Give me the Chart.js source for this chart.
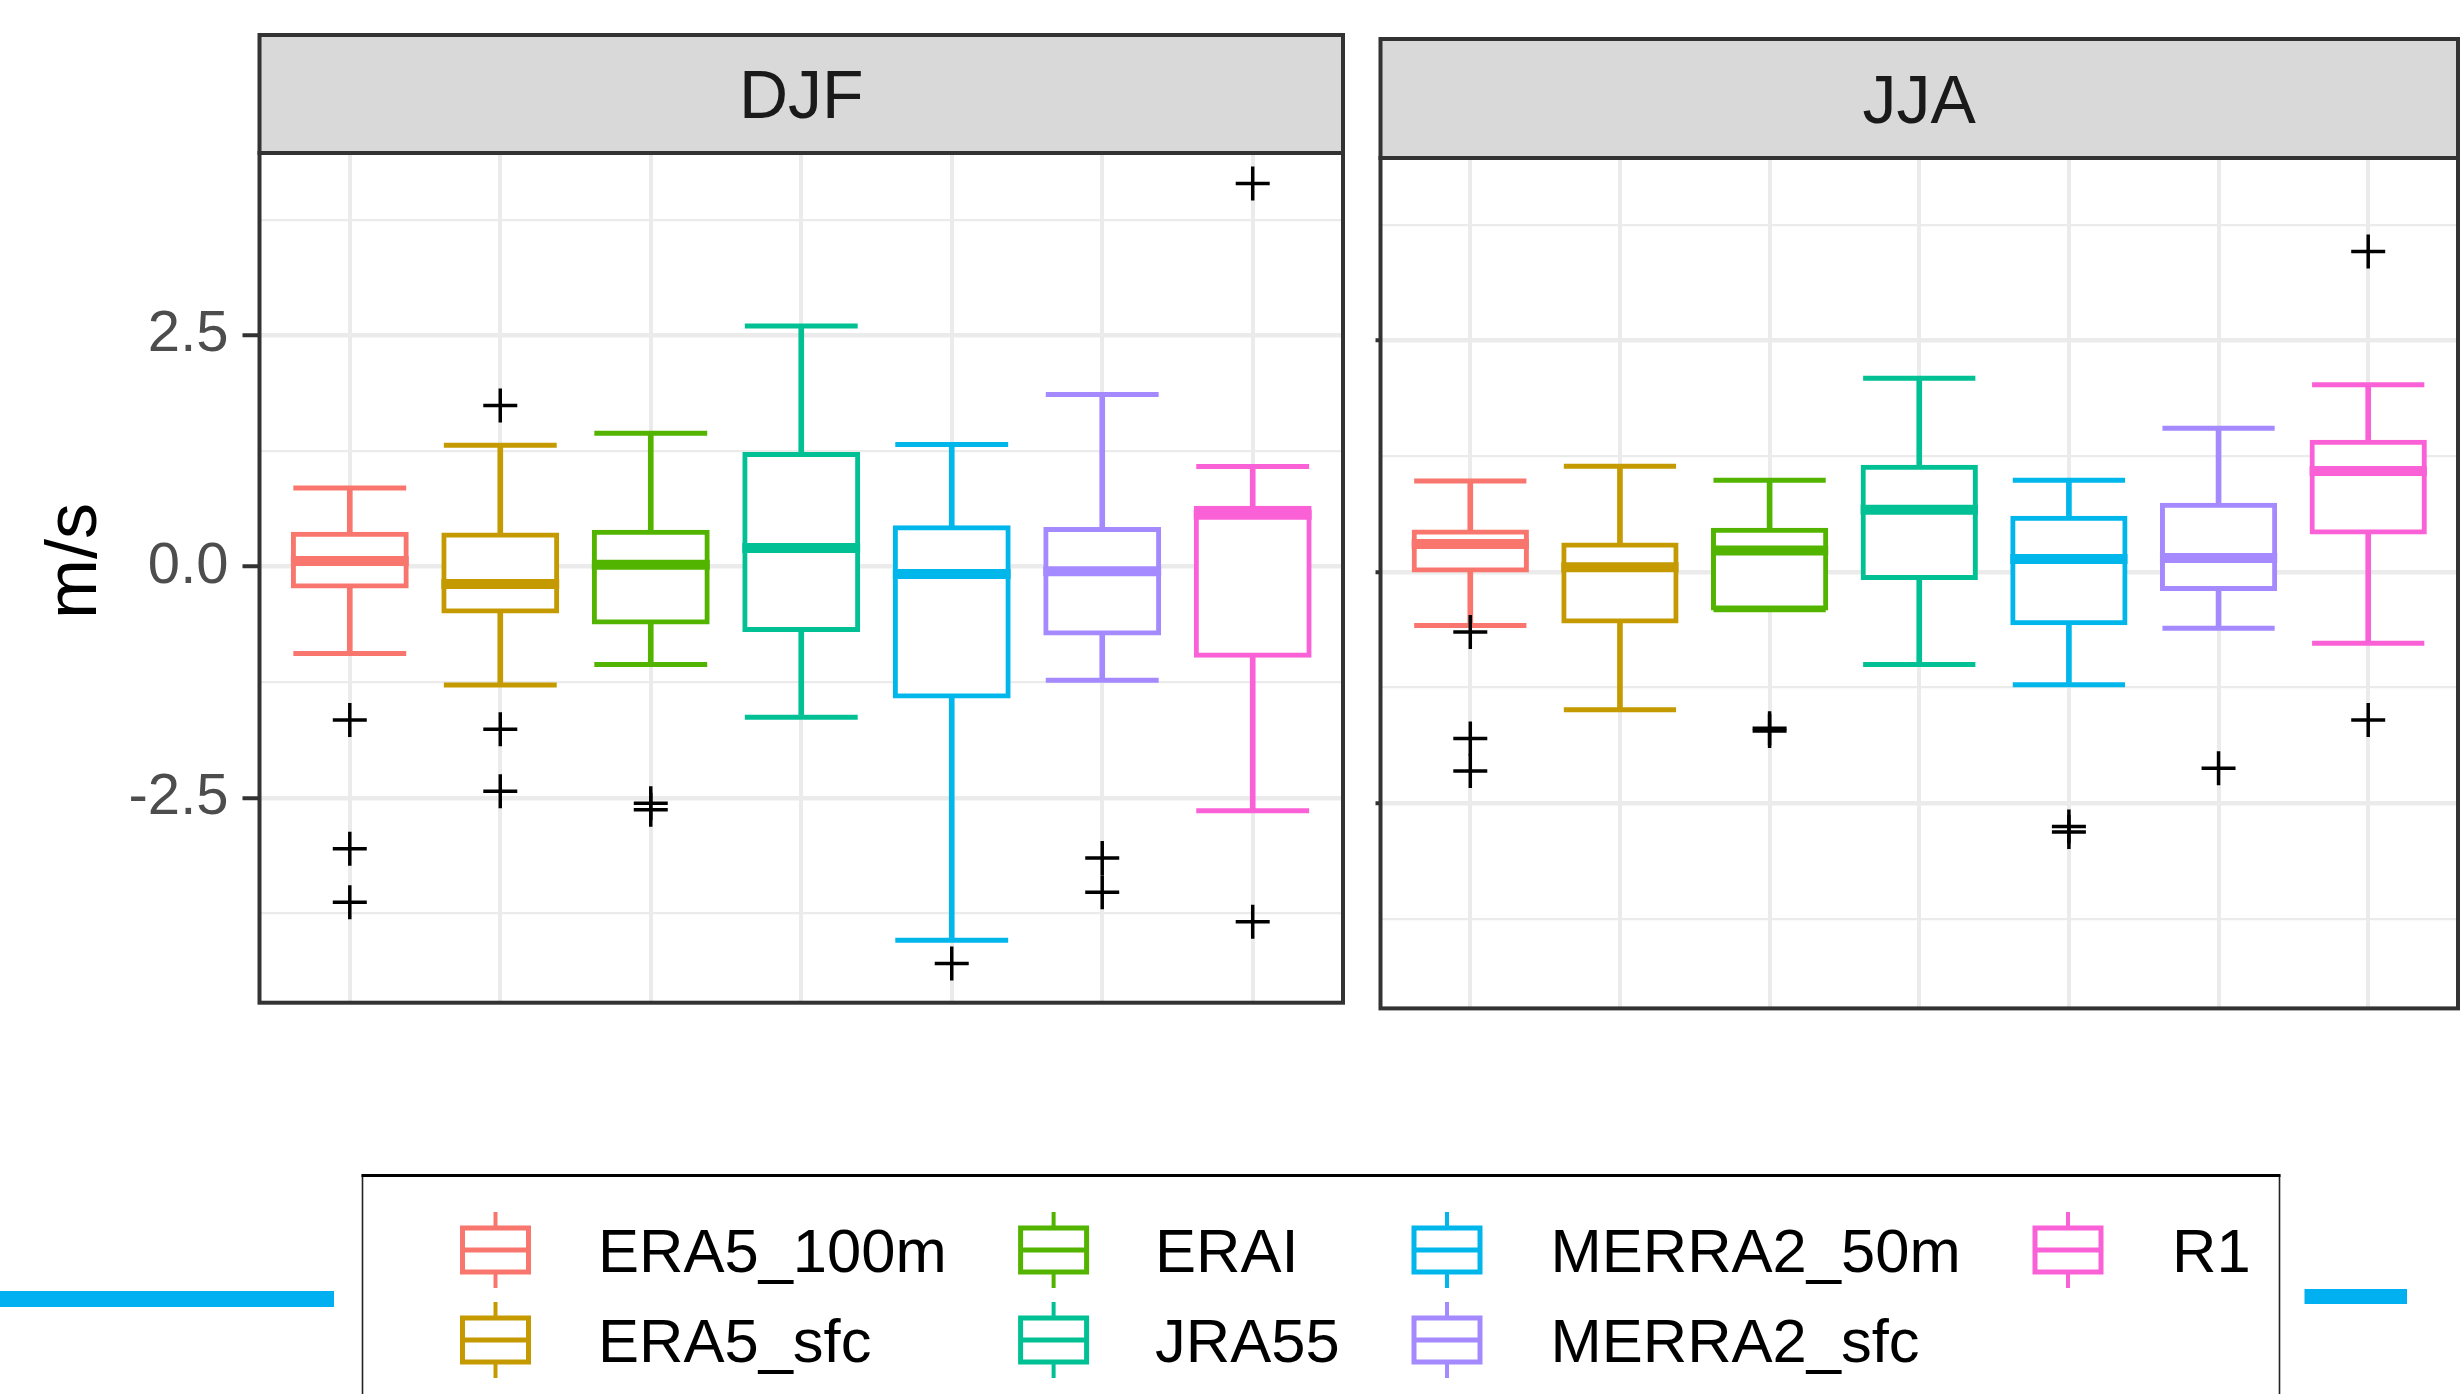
<!DOCTYPE html>
<html>
<head>
<meta charset="utf-8">
<script src="https://cdn.jsdelivr.net/npm/chart.js@4.4.1/dist/chart.umd.min.js"></script>
<style>
  html, body { margin:0; padding:0; background:#ffffff; }
  body { width:2462px; height:1394px; position:relative; overflow:hidden; font-family:"Liberation Sans", Arial, Helvetica, sans-serif; }
  #djf { position:absolute; left:0; top:0; }
  #jja { position:absolute; left:1362px; top:0; }
  #legend { position:absolute; left:0; top:0; pointer-events:none; }
</style>
</head>
<body>
<canvas id="djf" width="1362" height="1020"></canvas>
<canvas id="jja" width="1100" height="1020"></canvas>
<svg id="legend" width="2462" height="1394" xmlns="http://www.w3.org/2000/svg"></svg>
<script>
// ---------------- data ----------------
const categories = ['ERA5_100m', 'ERA5_sfc', 'ERAI', 'JRA55', 'MERRA2_50m', 'MERRA2_sfc', 'R1'];
const seriesColors = ['#F8766D', '#C49A00', '#53B400', '#00C094', '#00B6EB', '#A58AFF', '#FB61D7'];
const panelLabels = ['DJF', 'JJA'];

const djfLowerWhisker = [-0.94, -1.28, -1.06, -1.63, -4.04, -1.23, -2.64];
const djfQ1           = [-0.21, -0.48, -0.60, -0.68, -1.40, -0.72, -0.96];
const djfMedian       = [ 0.06, -0.19,  0.02,  0.20, -0.08, -0.05,  0.56];
const djfQ3           = [ 0.35,  0.34,  0.37,  1.21,  0.42,  0.40,  0.63];
const djfUpperWhisker = [ 0.85,  1.31,  1.44,  2.60,  1.32,  1.86,  1.08];
const djfOutliers     = [[-1.66, -3.05, -3.63], [1.74, -1.76, -2.43], [-2.56, -2.63], [], [-4.29], [-3.15, -3.52], [4.14, -3.84]];

const jjaLowerWhisker = [-0.58, -1.49, -0.41, -1.00, -1.22, -0.61, -0.77];
const jjaQ1           = [ 0.02, -0.53, -0.39, -0.06, -0.55, -0.18,  0.43];
const jjaMedian       = [ 0.30,  0.05,  0.23,  0.67,  0.14,  0.15,  1.09];
const jjaQ3           = [ 0.43,  0.29,  0.45,  1.13,  0.58,  0.72,  1.40];
const jjaUpperWhisker = [ 0.98,  1.14,  0.99,  2.09,  0.99,  1.55,  2.02];
const jjaOutliers     = [[-0.65, -1.80, -2.15], [], [-1.69, -1.72], [], [-2.75, -2.81], [-2.12], [3.46, -1.60]];

const yTickValues = [-3.75, -2.5, -1.25, 0, 1.25, 2.5, 3.75];
const yTickLabels = ['', '-2.5', '', '0.0', '', '2.5', ''];
const yAxisTitle = 'm/s';
const yMin = -4.715, yMax = 4.47;

// ---------------- rendering ----------------
const FONT = '"Liberation Sans", Arial, Helvetica, sans-serif';
Chart.defaults.font.family = FONT;

function halfWidthPx(chart, units) {
  const s = chart.scales.x;
  return Math.abs(s.getPixelForValue(units) - s.getPixelForValue(0));
}

function buildDatasets(lower, q1, med, q3, upper, outliers) {
  const idx = categories.map((_, i) => i);
  const outlierPoints = [];
  outliers.forEach((arr, i) => arr.forEach(v => outlierPoints.push({ x: i, y: v })));
  return [
    { type: 'bar', label: 'whisker', data: idx.map(i => ({ x: i, y: [lower[i], upper[i]] })),
      backgroundColor: seriesColors, borderWidth: 0, barThickness: 5, grouped: false, order: 5 },
    { type: 'scatter', label: 'upperCap', data: idx.map(i => ({ x: i, y: upper[i] })),
      pointStyle: 'line', pointRadius: ctx => halfWidthPx(ctx.chart, 0.375), pointBorderWidth: 5,
      pointBorderColor: seriesColors, order: 4 },
    { type: 'scatter', label: 'lowerCap', data: idx.map(i => ({ x: i, y: lower[i] })),
      pointStyle: 'line', pointRadius: ctx => halfWidthPx(ctx.chart, 0.375), pointBorderWidth: 5,
      pointBorderColor: seriesColors, order: 3 },
    { type: 'bar', label: 'box', data: idx.map(i => ({ x: i, y: [q1[i], q3[i]] })),
      backgroundColor: '#FFFFFF', borderColor: seriesColors, borderWidth: 5, borderSkipped: false,
      inflateAmount: 2.5, grouped: false, categoryPercentage: 1, barPercentage: 0.75, order: 2 },
    { type: 'scatter', label: 'median', data: idx.map(i => ({ x: i, y: med[i] })),
      pointStyle: 'line', pointRadius: ctx => halfWidthPx(ctx.chart, 0.375) + 2.5, pointBorderWidth: 10,
      pointBorderColor: seriesColors, order: 1 },
    { type: 'scatter', label: 'outlier', data: outlierPoints,
      pointStyle: 'cross', pointRadius: 17, pointBorderWidth: 3.5, pointBorderColor: '#000000', order: 0 }
  ];
}

const facetPlugin = {
  id: 'facet',
  beforeDraw(chart, args, opts) {
    const { ctx, chartArea: a } = chart;
    ctx.save();
    ctx.fillStyle = '#D9D9D9';
    ctx.fillRect(a.left, opts.stripTop, a.right - a.left, a.top - opts.stripTop);
    ctx.restore();
  },
  afterDraw(chart, args, opts) {
    const { ctx, chartArea: a } = chart;
    ctx.save();
    ctx.strokeStyle = '#333333';
    ctx.lineWidth = 4;
    ctx.strokeRect(a.left, opts.stripTop, a.right - a.left, a.top - opts.stripTop);
    ctx.strokeRect(a.left, a.top, a.right - a.left, a.bottom - a.top);
    if (opts.axisTitle) {
      // y-axis title, centred on the value 0 region like the original figure
      ctx.translate(opts.axisTitleX, opts.axisTitleY);
      ctx.rotate(-Math.PI / 2);
      ctx.fillStyle = '#000000';
      ctx.font = '72px ' + FONT;
      ctx.textAlign = 'center';
      ctx.textBaseline = 'middle';
      ctx.fillText(opts.axisTitle, 0, 0);
    }
    ctx.restore();
  }
};

function isMajor(v) { return Math.abs(v / 2.5 - Math.round(v / 2.5)) < 1e-6; }

function makePanel(canvasId, label, datasets, cfg) {
  const yScale = {
    type: 'linear', min: yMin, max: yMax,
    afterBuildTicks: axis => { axis.ticks = yTickValues.map(v => ({ value: v })); },
    ticks: {
      display: cfg.showLabels,
      callback: (v, i) => yTickLabels[i],
      color: '#4D4D4D', font: { size: 58, family: FONT }, padding: 14
    },
    grid: {
      color: '#EBEBEB', offset: false,
      lineWidth: c => (c.tick && isMajor(c.tick.value)) ? 4.5 : 2.2,
      drawTicks: true, tickLength: cfg.tickLength, tickWidth: 4,
      tickColor: c => (c.tick && isMajor(c.tick.value)) ? '#333333' : 'rgba(0,0,0,0)'
    },
    border: { display: false },
    afterFit: axis => { axis.width = cfg.axisWidth; axis.paddingTop = 0; axis.paddingBottom = 0; }
  };
  return new Chart(document.getElementById(canvasId), {
    type: 'bar',
    data: { datasets },
    options: {
      responsive: false, animation: false, devicePixelRatio: 1, events: [],
      layout: { padding: cfg.padding, autoPadding: false },
      scales: {
        x: {
          type: 'linear', min: -0.6, max: 6.6, offset: false,
          afterBuildTicks: axis => { axis.ticks = categories.map((_, i) => ({ value: i })); },
          ticks: { display: false },
          grid: { color: '#EBEBEB', lineWidth: 4, drawTicks: false, offset: false },
          border: { display: false },
          afterFit: axis => { axis.height = 0; axis.paddingLeft = 0; axis.paddingRight = 0; }
        },
        y: yScale
      },
      plugins: {
        legend: { display: false },
        tooltip: { enabled: false },
        title: {
          display: true, text: label, fullSize: false, align: 'center', color: '#1A1A1A',
          font: { size: 68, weight: 'normal', family: FONT, lineHeight: 1 },
          padding: cfg.titlePadding
        },
        facet: { stripTop: cfg.stripTop, axisTitle: cfg.axisTitle, axisTitleX: 76, axisTitleY: 561 }
      }
    },
    plugins: [facetPlugin]
  });
}

makePanel('djf', panelLabels[0],
  buildDatasets(djfLowerWhisker, djfQ1, djfMedian, djfQ3, djfUpperWhisker, djfOutliers),
  { showLabels: true, tickLength: 17, axisWidth: 259.5, stripTop: 35, axisTitle: yAxisTitle,
    padding: { top: 35, left: 0, right: 19, bottom: 17.3 }, titlePadding: { top: 30, bottom: 20 } });

makePanel('jja', panelLabels[1],
  buildDatasets(jjaLowerWhisker, jjaQ1, jjaMedian, jjaQ3, jjaUpperWhisker, jjaOutliers),
  { showLabels: false, tickLength: 5, axisWidth: 18.5, stripTop: 39, axisTitle: null,
    padding: { top: 39, left: 0, right: 4, bottom: 11.6 }, titlePadding: { top: 31, bottom: 20 } });

// ---------------- legend ----------------
(function buildLegend() {
  const svg = document.getElementById('legend');
  const NS = 'http://www.w3.org/2000/svg';
  const el = (name, attrs, text) => {
    const e = document.createElementNS(NS, name);
    for (const k in attrs) e.setAttribute(k, attrs[k]);
    if (text !== undefined) e.textContent = text;
    svg.appendChild(e);
    return e;
  };
  // stray cyan strokes at the sides of the legend
  el('rect', { x: 0, y: 1291, width: 334, height: 16, fill: '#00B0F0' });
  el('rect', { x: 2304.5, y: 1289, width: 102.5, height: 15, fill: '#00B0F0' });
  // legend frame
  el('rect', { x: 362.5, y: 1175.5, width: 1917, height: 300, fill: '#FFFFFF', stroke: '#222222', 'stroke-width': 1.6 });
  el('line', { x1: 361.5, y1: 1175.5, x2: 2280.5, y2: 1175.5, stroke: '#000000', 'stroke-width': 3 });

  const iconX = [495.5, 1053.6, 1447, 2068];
  const textX = [598, 1155, 1550.5, 2172];
  const rowY = [1250, 1340];
  const baseY = [1272, 1362];
  categories.forEach((name, i) => {
    const col = Math.floor(i / 2), row = i % 2;
    const cx = iconX[col], cy = rowY[row], c = seriesColors[i];
    el('line', { x1: cx, y1: cy - 38, x2: cx, y2: cy + 38, stroke: c, 'stroke-width': 4 });
    el('rect', { x: cx - 33, y: cy - 22, width: 66, height: 44, fill: '#FFFFFF', stroke: c, 'stroke-width': 5 });
    el('line', { x1: cx - 33, y1: cy, x2: cx + 33, y2: cy, stroke: c, 'stroke-width': 5 });
    el('text', { x: textX[col], y: baseY[row], 'font-size': 61.5, fill: '#000000',
      'font-family': 'Liberation Sans, Arial, Helvetica, sans-serif' }, name);
  });
})();
</script>
</body>
</html>
